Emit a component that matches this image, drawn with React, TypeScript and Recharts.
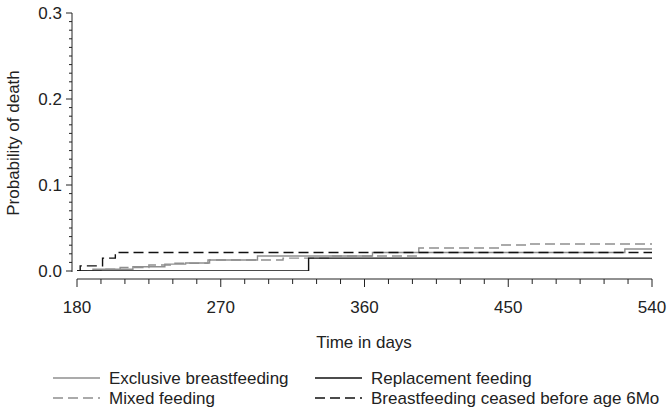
import { LineChart, Line, XAxis, YAxis } from "recharts";

// step curves (day, cumulative probability of death)
const exclusiveDays = [180, 190, 215, 235, 248, 263, 293, 365, 523, 540];
const exclusiveProb = [0, 0.002, 0.005, 0.008, 0.0093, 0.0128, 0.0175, 0.0215, 0.0256, 0.0256];

const mixedDays = [180, 195, 207, 225, 240, 262, 309, 340, 394, 445, 462, 540];
const mixedProb = [0, 0.002, 0.004, 0.007, 0.009, 0.0128, 0.015, 0.0175, 0.0267, 0.0302, 0.0314, 0.0314];

const replacementDays = [180, 325, 540];
const replacementProb = [0, 0.015, 0.015];

const ceasedDays = [180, 182, 196, 204, 540];
const ceasedProb = [0, 0.006, 0.015, 0.0215, 0.0215];

const xLabels = [180, 270, 360, 450, 540];
const yLabels = [0, 0.1, 0.2, 0.3];

const FONT = "'Liberation Sans', Arial, sans-serif";
const TEXT = "#222";

const toRows = (days: number[], probs: number[]) =>
  days.map((d, i) => ({ day: d, p: probs[i] }));

const series = [
  { name: "Exclusive breastfeeding", rows: toRows(exclusiveDays, exclusiveProb), color: "#8f8f8f", dash: undefined },
  { name: "Mixed feeding", rows: toRows(mixedDays, mixedProb), color: "#8f8f8f", dash: "10 5" },
  { name: "Replacement feeding", rows: toRows(replacementDays, replacementProb), color: "#111", dash: undefined },
  { name: "Breastfeeding ceased before age 6Mo", rows: toRows(ceasedDays, ceasedProb), color: "#111", dash: "10 5" },
];

// minor ticks every 15 days / 0.01
const xTicks: number[] = [];
for (let d = 180; d <= 540; d += 15) xTicks.push(d);
const yTicks: number[] = [];
for (let i = 0; i <= 30; i++) yTicks.push(i / 100);

const XTick = ({ x, y, payload }: any) => {
  const major = xLabels.includes(payload.value);
  return (
    <g>
      <line x1={x} x2={x} y1={y} y2={y + (major ? 8 : 5)} stroke="#222" />
      {major && (
        <text x={x} y={y + 34} textAnchor="middle" fontSize={17} fill={TEXT} fontFamily={FONT}>
          {payload.value}
        </text>
      )}
    </g>
  );
};

const YTick = ({ x, y, payload }: any) => {
  const major = yLabels.some((v) => Math.abs(v - payload.value) < 1e-6);
  return (
    <g>
      <line x1={x - (major ? 6 : 3)} x2={x} y1={y} y2={y} stroke="#222" />
      {major && (
        <text x={x - 10} y={y} dy="0.35em" textAnchor="end" fontSize={17} fill={TEXT} fontFamily={FONT}>
          {payload.value.toFixed(1)}
        </text>
      )}
    </g>
  );
};

export default function App() {
  return (
    <div style={{ position: "absolute", left: 0, top: 0, width: 669, height: 412, background: "#fff", fontFamily: FONT }}>
      <LineChart width={669} height={412} margin={{ top: 13, right: 12, bottom: 103, left: 0 }}>
        <XAxis
          type="number"
          dataKey="day"
          domain={[180, 540]}
          ticks={xTicks}
          interval={0}
          padding={{ left: 5, right: 5 }}
          height={30}
          tickSize={0}
          tickMargin={0}
          tickLine={false}
          tick={<XTick />}
          axisLine={{ stroke: "#222", strokeDasharray: "0 5 575 20" }}
          allowDataOverflow
        />
        <YAxis
          type="number"
          domain={[0, 0.3]}
          ticks={yTicks}
          interval={0}
          padding={{ top: 0, bottom: 8 }}
          width={72}
          tickSize={0}
          tickMargin={0}
          tickLine={false}
          tick={<YTick />}
          axisLine={{ stroke: "#222", strokeDasharray: "259 20" }}
          allowDataOverflow
        />
        {series.map((s) => (
          <Line
            key={s.name}
            name={s.name}
            data={s.rows}
            dataKey="p"
            type="stepAfter"
            stroke={s.color}
            strokeWidth={1.4}
            strokeDasharray={s.dash}
            dot={false}
            activeDot={false}
            isAnimationActive={false}
          />
        ))}
      </LineChart>
      <svg width={669} height={412} style={{ position: "absolute", left: 0, top: 0, pointerEvents: "none" }}>
        <text transform="rotate(-90)" x={-143} y={13} dy="0.35em" textAnchor="middle" fontSize={17} fill={TEXT} fontFamily={FONT}>
          Probability of death
        </text>
        <text x={364} y={342} dy="0.35em" textAnchor="middle" fontSize={17} fill={TEXT} fontFamily={FONT}>
          Time in days
        </text>
        {series.map((s, i) => {
          const col = i < 2 ? 0 : 1;
          const row = i % 2;
          const lx = col === 0 ? 53 : 315;
          const ly = 378 + row * 20;
          return (
            <g key={s.name}>
              <line x1={lx} x2={lx + 47} y1={ly} y2={ly} stroke={s.color} strokeWidth={1.4} strokeDasharray={s.dash} />
              <text x={lx + 56} y={ly} dy="0.35em" fontSize={17} fill={TEXT} fontFamily={FONT}>
                {s.name}
              </text>
            </g>
          );
        })}
      </svg>
    </div>
  );
}
